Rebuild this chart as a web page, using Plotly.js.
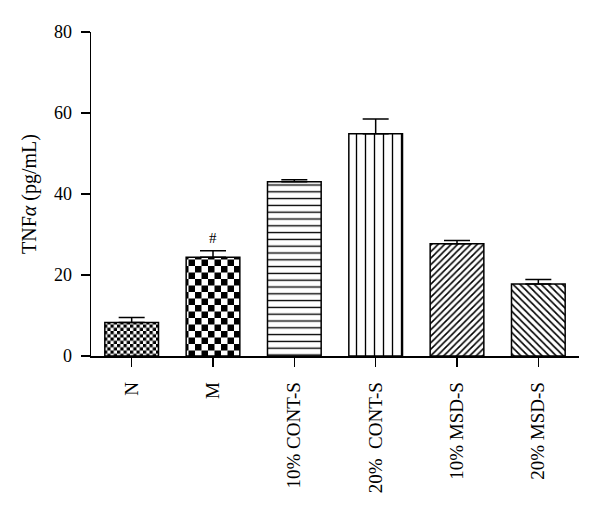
<!DOCTYPE html>
<html>
<head>
<meta charset="utf-8">
<script src="https://cdn.plot.ly/plotly-3.0.1.min.js"></script>
<style>html,body{margin:0;padding:0;background:#fff;}</style>
</head>
<body>
<div id="chart" style="width:600px;height:509px;"></div>
<script>
var categories = ['N', 'M', '10% CONT-S', '20%  CONT-S', '10% MSD-S', '20% MSD-S'];
var values = [8.3, 24.4, 43.0, 54.9, 27.7, 17.8];
var errorsUp = [1.2, 1.6, 0.5, 3.6, 0.8, 1.1];
var errorsDown = [0, 0, 0, 0, 0, 0];
var yTicks = [0, 20, 40, 60, 80];
var markLabel = '#';
var markIndex = 1;

var patShapes = ['.', '.', '-', '|', '/', '\\'];
var patSizes = [6.5, 13, 6.8, 9, 4.6, 5];
var patSolidity = [0.5, 0.5, 0.2, 0.15, 0.33, 0.33];

var serif = 'Liberation Serif';

var trace = {
  type: 'bar',
  x: categories,
  y: values,
  width: 0.66,
  marker: {
    color: '#ffffff',
    line: {color: '#000000', width: 1.5},
    pattern: {
      shape: patShapes,
      size: patSizes,
      solidity: patSolidity,
      fgcolor: '#000000',
      bgcolor: '#ffffff',
      fillmode: 'replace'
    }
  },
  error_y: {
    type: 'data',
    symmetric: false,
    array: errorsUp,
    arrayminus: errorsDown,
    color: '#000000',
    thickness: 1.5,
    width: 13
  },
  hoverinfo: 'none'
};

var layout = {
  width: 600,
  height: 509,
  margin: {l: 91, r: 21, t: 32, b: 153},
  paper_bgcolor: '#ffffff',
  plot_bgcolor: '#ffffff',
  showlegend: false,
  font: {family: serif, color: '#000000', size: 19},
  xaxis: {
    type: 'category',
    range: [-0.5, 5.5],
    showline: true,
    linecolor: '#000000',
    linewidth: 1.5,
    ticks: 'outside',
    ticklen: 9,
    tickwidth: 1.5,
    tickcolor: '#000000',
    tickangle: -90,
    tickfont: {family: serif, size: 19, color: '#000000'},
    ticklabelstandoff: 8,
    showgrid: false,
    zeroline: false,
    fixedrange: true
  },
  yaxis: {
    range: [0, 80],
    tickvals: yTicks,
    showline: true,
    linecolor: '#000000',
    linewidth: 1.5,
    ticks: 'outside',
    ticklen: 9,
    tickwidth: 1.5,
    tickcolor: '#000000',
    tickfont: {family: serif, size: 18, color: '#000000'},
    ticklabelstandoff: 5,
    showgrid: false,
    zeroline: false,
    fixedrange: true,
    title: {text: 'TNF<i>α</i> (pg/mL)', font: {family: serif, size: 20, color: '#000000'}, standoff: 12}
  },
  annotations: [{
    x: categories[markIndex],
    y: values[markIndex] + errorsUp[markIndex],
    xref: 'x', yref: 'y',
    text: markLabel,
    showarrow: false,
    yanchor: 'bottom',
    yshift: 3,
    font: {family: serif, size: 15, color: '#000000'}
  }]
};

Plotly.newPlot('chart', [trace], layout, {staticPlot: true, displayModeBar: false}).then(function(gd) {
  var ns = 'http://www.w3.org/2000/svg';
  var pats = document.querySelectorAll('#chart defs pattern');
  pats.forEach(function(p) {
    var c = p.querySelector('circle');
    if (!c) return;
    var s = parseFloat(p.getAttribute('width'));
    c.parentNode.removeChild(c);
    [[0, 0], [s / 2, s / 2]].forEach(function(o) {
      var r = document.createElementNS(ns, 'rect');
      r.setAttribute('x', o[0]);
      r.setAttribute('y', o[1]);
      r.setAttribute('width', s / 2);
      r.setAttribute('height', s / 2);
      r.setAttribute('fill', '#000000');
      p.appendChild(r);
    });
  });
});
</script>
</body>
</html>
